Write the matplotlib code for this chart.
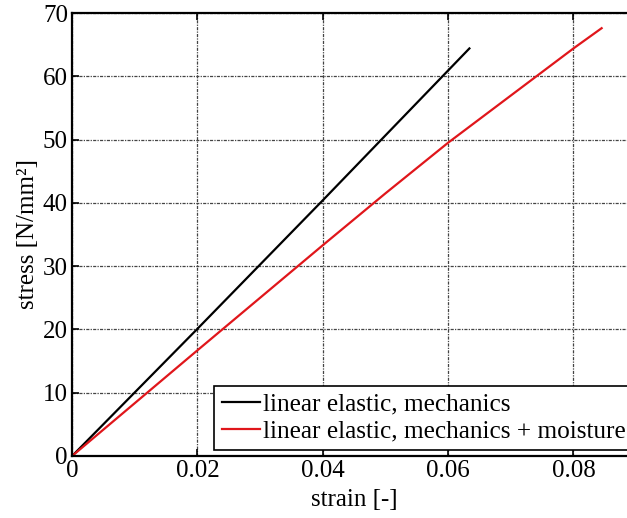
import numpy as np
import matplotlib
matplotlib.use("Agg")
import matplotlib.pyplot as plt

# stress-strain curves
strain_mech = [0.0, 0.02, 0.04, 0.0634]
stress_mech = [0.0, 20.1, 40.4, 64.4]

strain_moist = [0.0, 0.02, 0.04, 0.05, 0.06, 0.08, 0.0845]
stress_moist = [0.0, 16.7, 33.3, 41.5, 49.5, 64.4, 67.6]

labels = ["linear elastic, mechanics", "linear elastic, mechanics + moisture"]
xticks = [0, 0.02, 0.04, 0.06, 0.08]
xticklabels = ["0", "0.02", "0.04", "0.06", "0.08"]
yticks = [0, 10, 20, 30, 40, 50, 60, 70]

plt.rcParams['font.family'] = ['Liberation Serif', 'DejaVu Serif']

fig = plt.figure(figsize=(6.27, 5.18), dpi=100)
ax = fig.add_axes([0.115, 0.1197, 0.8995, 0.8552])

ax.plot(strain_mech, stress_mech, color='black', lw=1.6, label=labels[0])
ax.plot(strain_moist, stress_moist, color='#e0161b', lw=1.6, label=labels[1])

ax.set_xlim(0, 0.09)
ax.set_ylim(0, 70)
ax.set_xticks(xticks)
ax.set_xticklabels(xticklabels)
ax.set_yticks(yticks)
ax.tick_params(direction='in', labelsize=18, length=5, width=1.2, top=True, pad=3)
for s in ax.spines.values():
    s.set_linewidth(1.6)

ax.grid(True, color='#444444', lw=0.9, linestyle=(0, (2.5, 1, 1, 1)))
ax.set_axisbelow(True)

ax.set_xlabel("strain [-]", fontsize=18, labelpad=5)
ax.set_ylabel("stress [N/mm²]", fontsize=18, labelpad=3)

leg = ax.legend(loc='lower left', bbox_to_anchor=(0.252, 0.0135), borderaxespad=0,
                fontsize=18.2, handlelength=1.5, handletextpad=0.12, labelspacing=0.15,
                borderpad=0.3, fancybox=False, framealpha=1, edgecolor='black')
leg.get_frame().set_linewidth(1.2)

fig.savefig("out.png", dpi=100)
